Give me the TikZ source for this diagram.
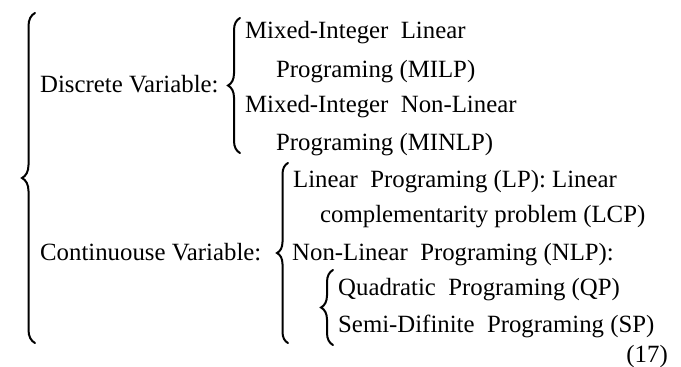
\documentclass[tikz,border=0pt]{standalone}
\usepackage{fontspec}
\setmainfont{Liberation Serif}
\usetikzlibrary{decorations.pathreplacing}
\begin{document}
\begin{tikzpicture}[x=1pt,y=1pt,
  txt/.style={inner sep=0pt,anchor=base west,font=\fontsize{24.8}{28}\selectfont},
  curly/.style={decorate,line width=2pt,line cap=round,decoration={brace,amplitude=#1}}]
\useasboundingbox[fill=white] (0,0) rectangle (681,-367);

% labels of the two main branches
\node[txt] (disc) at (40,-92) {Discrete Variable:};
\node[txt] (cont) at (40,-260) {Continuouse Variable:};

% discrete variable problems
\node[txt] (milp1) at (245,-38) {Mixed-Integer\ \ Linear};
\node[txt] (milp2) at (276,-77) {Programing (MILP)};
\node[txt] (minlp1) at (245,-112) {Mixed-Integer\ \ Non-Linear};
\node[txt] (minlp2) at (276,-150) {Programing (MINLP)};

% continuous variable problems
\node[txt] (lp1) at (293,-187) {Linear\ \ Programing (LP): Linear};
\node[txt] (lp2) at (320,-222) {complementarity problem (LCP)};
\node[txt] (nlp) at (292,-260) {Non-Linear\ \ Programing (NLP):};
\node[txt] (qp) at (338,-295) {Quadratic\ \ Programing (QP)};
\node[txt] (sp) at (338,-332) {Semi-Difinite\ \ Programing (SP)};

% equation number
\node[txt,anchor=base east] (eqno) at (668,-362) {(17)};

% brace end points
\coordinate (b0t) at (35,-13);   \coordinate (b0b) at (35,-343);
\coordinate (b1t) at (240,-18);  \coordinate (b1b) at (240,-153);
\coordinate (b2t) at (288,-163); \coordinate (b2b) at (288,-343);
\coordinate (b3t) at (333,-270); \coordinate (b3b) at (333,-345);

\draw[curly=13pt] (b0b) -- (b0t);
\draw[curly=12pt] (b1b) -- (b1t);
\draw[curly=11pt] (b2b) -- (b2t);
\draw[curly=12pt] (b3b) -- (b3t);
\end{tikzpicture}
\end{document}
